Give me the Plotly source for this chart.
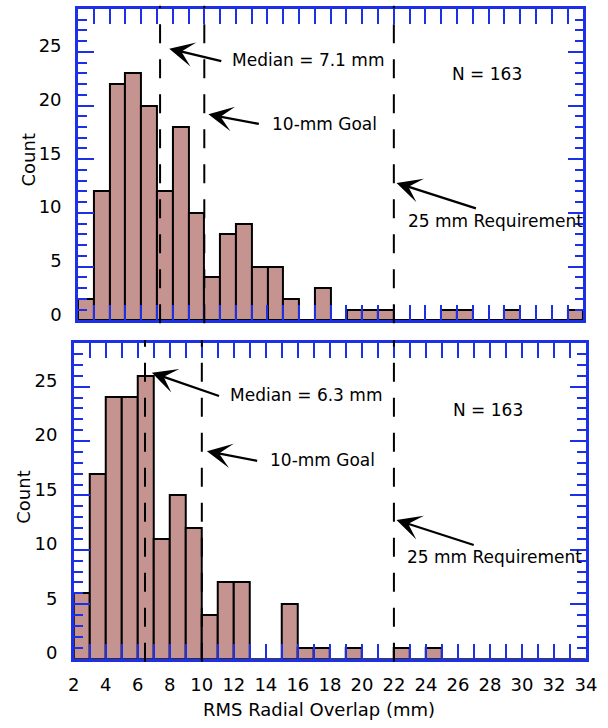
import plotly.graph_objects as go

# ---- data ----
bin_left = list(range(2, 34))  # 1-mm bins from 2 to 34 mm
counts_top = [2, 12, 22, 23, 20, 12, 18, 10, 4, 8, 9, 5, 5, 2, 0, 3,
              0, 1, 1, 1, 0, 0, 0, 1, 1, 0, 0, 1, 0, 0, 0, 1]
counts_bottom = [6, 17, 24, 24, 26, 11, 15, 12, 4, 7, 7, 0, 0, 5, 1, 1,
                 0, 1, 0, 0, 1, 0, 1, 0, 0, 0, 0, 0, 0, 0, 0, 0]
median_label = ["Median = 7.1 mm", "Median = 6.3 mm"]
median_line_x = [7.2, 6.45]
goal_x = 10
req_x = 22
n_label = "N = 163"
x_ticks = list(range(2, 35, 2))
y_ticks = [0, 5, 10, 15, 20, 25]

BLUE = "rgb(28,48,232)"
FILL = "rgb(198,148,144)"
FONT = "DejaVu Sans, Liberation Sans, Arial, sans-serif"

fig = go.Figure()
centers = [b + 0.5 for b in bin_left]
for counts, xa, ya in [(counts_top, "x", "y"), (counts_bottom, "x2", "y2")]:
    fig.add_trace(go.Bar(x=centers, y=counts, width=1, xaxis=xa, yaxis=ya,
                         marker=dict(color=FILL, line=dict(color="black", width=2)),
                         showlegend=False))

W, H = 608, 728
dom_top_x = [74 / W, 594 / W]
dom_bot_x = [69.7 / W, 596.7 / W]
dom_top_y = [1 - 322 / H, 1 - 9 / H]
dom_bot_y = [1 - 662.3 / H, 1 - 345 / H]

def xaxis(domain, anchor, labels):
    return dict(domain=domain, anchor=anchor, range=[2, 34], tickmode="array",
                tickvals=x_ticks, ticks="inside", ticklen=15, tickwidth=2, tickcolor=BLUE,
                minor=dict(dtick=1, tick0=0, ticks="inside", ticklen=15, tickwidth=2, tickcolor=BLUE),
                showline=True, linecolor=BLUE, linewidth=2.5, mirror="ticks",
                showgrid=False, zeroline=False, showticklabels=labels, ticklabelstandoff=8,
                ticklabeloverflow="allow",
                tickfont=dict(family=FONT, size=18, color="black"))

def yaxis(domain, anchor):
    return dict(domain=domain, anchor=anchor, range=[0, 29], tickmode="array",
                tickvals=y_ticks, ticks="inside", ticklen=16, tickwidth=2, tickcolor=BLUE,
                minor=dict(dtick=1, tick0=0, ticks="inside", ticklen=9, tickwidth=2, tickcolor=BLUE),
                showline=True, linecolor=BLUE, linewidth=2.5, mirror="ticks",
                showgrid=False, zeroline=False, ticklabelstandoff=10, ticklabelshift=-6,
                ticklabeloverflow="allow",
                tickfont=dict(family=FONT, size=18, color="black"))

fig.update_layout(
    width=W, height=H, margin=dict(l=0, r=0, t=0, b=0),
    paper_bgcolor="white", plot_bgcolor="white", bargap=0,
    xaxis=xaxis(dom_top_x, "y", False),
    yaxis=yaxis(dom_top_y, "x"),
    xaxis2=xaxis(dom_bot_x, "y2", True),
    yaxis2=yaxis(dom_bot_y, "x2"),
)

# dashed reference lines
for i, (xr, yr) in enumerate([("x", "y"), ("x2", "y2")]):
    for xv in [median_line_x[i], goal_x, req_x]:
        fig.add_shape(type="line", xref=xr, yref=yr + " domain", x0=xv, x1=xv, y0=-0.01, y1=1.01,
                      line=dict(color="black", width=2, dash="19px,16px"), layer="above")

tf = dict(family=FONT, size=17, color="black")
# annotation geometry (data coords) per panel
geo = [
    dict(med_head=(7.78, 25.3), med_tail=(11.17, 24.1), med_txt=(11.6, 24.28),
         goal_head=(10.26, 19.18), goal_tail=(13.55, 18.26), goal_txt=(14.17, 18.26),
         n_txt=(27.9, 22.9), req_head=(22.17, 12.79), req_tail=(27.29, 10.38), req_txt=(22.74, 9.27)),
    dict(med_head=(6.88, 26.28), med_tail=(11.17, 24.09), med_txt=(11.63, 24.23),
         goal_head=(10.32, 19.07), goal_tail=(13.55, 18.16), goal_txt=(14.16, 18.28),
         n_txt=(27.88, 22.84), req_head=(22.16, 12.74), req_tail=(27.08, 10.4), req_txt=(22.72, 9.33)),
]
for i, (xr, yr) in enumerate([("x", "y"), ("x2", "y2")]):
    g = geo[i]
    for key in ["med", "goal", "req"]:
        hx, hy = g[key + "_head"]
        tx, ty = g[key + "_tail"]
        fig.add_annotation(xref=xr, yref=yr, x=hx, y=hy, ax=tx, ay=ty, axref=xr, ayref=yr,
                           text="", showarrow=True, arrowhead=3, arrowsize=1.8,
                           arrowwidth=2.3, arrowcolor="black", standoff=0, startstandoff=0)
    texts = [(median_label[i], g["med_txt"], "left"), ("10-mm Goal", g["goal_txt"], "left"),
             (n_label, g["n_txt"], "center"), ("25 mm Requirement", g["req_txt"], "left")]
    for t, (x, y), anc in texts:
        fig.add_annotation(xref=xr, yref=yr, x=x, y=y, text=t, showarrow=False,
                           xanchor=anc, yanchor="middle", font=tf)

# axis titles
title_font = dict(family=FONT, size=18, color="black")
fig.add_annotation(xref="paper", yref="paper", x=23 / W, y=1 - 161 / H, text="Count",
                   textangle=-90, showarrow=False, font=title_font, xanchor="center", yanchor="middle")
fig.add_annotation(xref="paper", yref="paper", x=18 / W, y=1 - 500 / H, text="Count",
                   textangle=-90, showarrow=False, font=title_font, xanchor="center", yanchor="middle")
fig.add_annotation(xref="paper", yref="paper", x=(205 + 438) / 2 / W, y=1 - 713 / H,
                   text="RMS Radial Overlap (mm)", showarrow=False, font=title_font,
                   xanchor="center", yanchor="middle")

fig.write_html("out.html")
